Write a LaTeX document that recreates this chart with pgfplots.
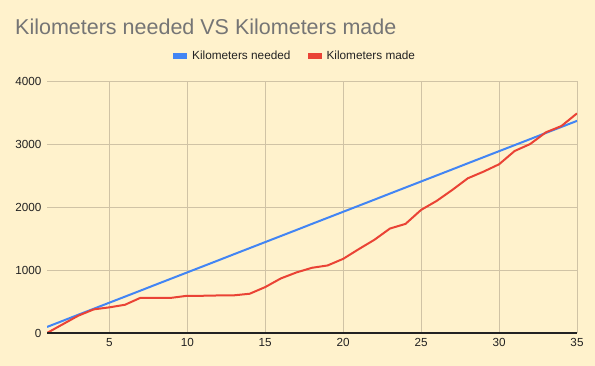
\documentclass[border=0pt]{standalone}
\usepackage{pgfplots}
\pgfplotsset{compat=1.18}
\usepackage{fontspec}
\setmainfont{Liberation Sans}
\definecolor{bg}{HTML}{FFF2CC}
\definecolor{gridc}{HTML}{D0C3A5}
\definecolor{needc}{HTML}{4285F4}
\definecolor{madec}{HTML}{EA4335}
\definecolor{titlec}{HTML}{757575}
\definecolor{textc}{HTML}{222222}
\begin{document}
\begin{tikzpicture}[x=1pt,y=1pt]
\fill[bg] (0,0) rectangle (595,366);
\node[anchor=base west, text=titlec, font=\fontsize{21.5}{25}\selectfont, inner sep=0pt] at (15,331.7) {Kilometers needed VS Kilometers made};
\begin{axis}[
  at={(47pt,33pt)}, anchor=south west,
  scale only axis, width=530pt, height=252pt,
  xmin=1, xmax=35, ymin=0, ymax=4000,
  xtick={5,10,15,20,25,30,35},
  ytick={0,1000,2000,3000,4000},
  grid=major,
  major grid style={color=gridc, line width=0.9pt},
  axis line style={draw=none},
  tick style={draw=none},
  /pgf/number format/assume math mode=true,
  /pgf/number format/1000 sep={},
  ticklabel style={font=\fontsize{11.7}{14}\selectfont, text=textc},
  yticklabel style={xshift=-2pt},
  xticklabel style={yshift=-2pt},
  legend columns=2,
  legend style={draw=none, fill=none, at={(axis description cs:0.232,1.099)}, anchor=west,
    font=\fontsize{11.8}{14}\selectfont, text=textc,
    /tikz/every even column/.append style={column sep=15pt}},
  legend image code/.code={\fill (0pt,-1.6pt) rectangle (12pt,1.6pt); \path[draw=none] (0pt,0pt) -- (16pt,0pt);},
  extra description/.code={\draw[color=textc, line width=1.1pt] (rel axis cs:0,0) -- (rel axis cs:1,0);},
]
\addplot[color=needc, line width=2pt] coordinates {
(1,96) (2,192) (3,289) (4,385) (5,481) (6,577) (7,673) (8,770) (9,866) (10,962)
(11,1058) (12,1154) (13,1251) (14,1347) (15,1443) (16,1539) (17,1635) (18,1732)
(19,1828) (20,1924) (21,2020) (22,2116) (23,2213) (24,2309) (25,2405) (26,2501)
(27,2597) (28,2694) (29,2790) (30,2886) (31,2982) (32,3078) (33,3175) (34,3271) (35,3367)
};
\addlegendentry{Kilometers needed}
\addplot[color=madec, line width=2pt] coordinates {
(1,0) (2,137) (3,274) (4,375) (5,407) (6,448) (7,559) (8,559) (9,559) (10,591)
(11,591) (12,596) (13,598) (14,623) (15,729) (16,866) (17,961) (18,1035)
(19,1072) (20,1177) (21,1331) (22,1479) (23,1658) (24,1732) (25,1954) (26,2097)
(27,2271) (28,2456) (29,2561) (30,2678) (31,2889) (32,3000) (33,3185) (34,3285) (35,3486)
};
\addlegendentry{Kilometers made}
\end{axis}
\end{tikzpicture}
\end{document}
